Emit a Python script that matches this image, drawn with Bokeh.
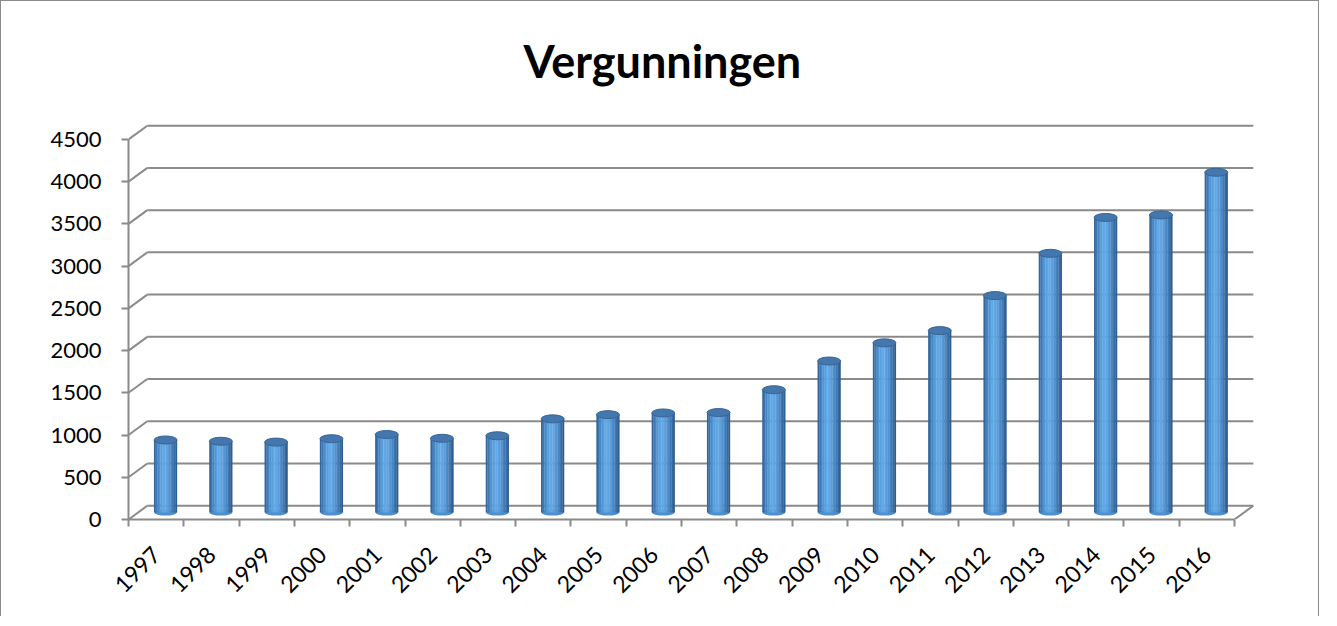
import math
from bokeh.plotting import figure
from bokeh.models import Range1d, FixedTicker
from bokeh.embed import file_html
from bokeh.resources import INLINE

# ---- data ----
years = ["1997", "1998", "1999", "2000", "2001", "2002", "2003", "2004", "2005", "2006",
         "2007", "2008", "2009", "2010", "2011", "2012", "2013", "2014", "2015", "2016"]
vergunningen = [860, 845, 835, 875, 925, 880, 910, 1110, 1160, 1180,
                1185, 1455, 1795, 2010, 2155, 2570, 3070, 3495, 3525, 4030]
y_ticks = [0, 500, 1000, 1500, 2000, 2500, 3000, 3500, 4000, 4500]

# ---- layout ----
W, H = 1319, 616
FL, FR, FT, FB = 127, 60, 117, 98
frame_w = W - FL - FR
frame_h = H - FT - FB
n = len(years)
sx = 55.3           # px per category
sy = 381.0 / 4500   # px per unit
x_end = frame_w / sx
y_end = frame_h / sy

# 3D offsets (back wall and mid-depth for the columns)
dxb, dyb = 18.8 / sx, 13.8 / sy
dxm, dym = 9.4 / sx, 6.9 / sy
bw = 23 / sx

GRID = "#8a8a8a"
FONT = "Lato"

p = figure(width=W, height=H, x_range=Range1d(0, x_end), y_range=Range1d(0, y_end),
           output_backend="svg", toolbar_location=None,
           min_border_left=FL, min_border_right=FR, min_border_top=FT, min_border_bottom=FB)
p.styles = {"border-left": "1px solid #8c8c8c", "border-top": "1px solid #8c8c8c",
            "border-right": "1px solid #8c8c8c"}
p.outline_line_color = None
p.grid.visible = False
p.background_fill_color = "white"
p.border_fill_color = "white"

# title
p.title.text = "Vergunningen"
p.title.text_font = FONT
p.title.text_font_size = "45px"
p.title.text_font_style = "bold"
p.title.text_color = "black"
p.title.align = "left"
p.title.vertical_align = "middle"
p.title.offset = 395
p.title.standoff = 62

# y axis
ya = p.yaxis[0]
ya.ticker = FixedTicker(ticks=y_ticks, minor_ticks=[])
ya.bounds = (0, 4500)
ya.axis_line_color = GRID
ya.axis_line_width = 2
ya.major_tick_line_color = GRID
ya.major_tick_line_width = 2
ya.major_tick_out = 7
ya.major_tick_in = 0
ya.major_label_standoff = 20
ya.major_label_text_font = FONT
ya.major_label_text_font_size = "22px"
ya.major_label_text_color = "black"

# x axis
xa = p.xaxis[0]
centers_front = [i + 0.5 for i in range(n)]
xa.ticker = FixedTicker(ticks=centers_front, minor_ticks=list(range(n + 1)))
xa.major_label_overrides = {c: y for c, y in zip(centers_front, years)}
xa.bounds = (0, n)
xa.axis_line_color = GRID
xa.axis_line_width = 2
xa.major_tick_out = 0
xa.major_tick_in = 0
xa.major_tick_line_color = None
xa.minor_tick_line_color = GRID
xa.minor_tick_line_width = 2
xa.minor_tick_out = 7
xa.minor_tick_in = 0
xa.major_label_orientation = math.pi / 4
xa.major_label_standoff = 24
xa.major_label_text_font = FONT
xa.major_label_text_font_size = "23px"
xa.major_label_text_color = "black"

# back wall gridlines + left wall connectors + floor edge
p.segment(x0=[dxb] * len(y_ticks), y0=[t + dyb for t in y_ticks],
          x1=[n + dxb] * len(y_ticks), y1=[t + dyb for t in y_ticks],
          line_color=GRID, line_width=2)
p.segment(x0=[0] * len(y_ticks), y0=y_ticks, x1=[dxb] * len(y_ticks),
          y1=[t + dyb for t in y_ticks], line_color=GRID, line_width=2)
p.segment(x0=[n], y0=[0], x1=[n + dxb], y1=[dyb], line_color=GRID, line_width=2)

# cylinders
centers = [c + dxm for c in centers_front]
tops = [v + dym for v in vergunningen]
strip_colors = ["#35669b", "#3f77b1", "#4887c6", "#5095d4", "#589fde", "#5fa6e4",
                "#62a8e6", "#5fa4e1", "#5a9cda", "#5292cf", "#4a86c2", "#407ab4",
                "#376ba1", "#305e8f"]
ns = len(strip_colors)
sw = bw / ns
p.ellipse(x=centers, y=[dym] * n, width=bw * 0.98, height=6, height_units="screen",
          fill_color="#4f8fcd", line_color=None)
for k, col in enumerate(strip_colors):
    xs = [c - bw / 2 + (k + 0.5) * sw for c in centers]
    p.vbar(x=xs, top=tops, bottom=dym, width=sw * 1.15, fill_color=col, line_color=None)
p.ellipse(x=centers, y=tops, width=bw, height=8, height_units="screen",
          fill_color="#4477ad", line_color="#386594", line_width=1)

open("out.html", "w").write(file_html(p, INLINE))
